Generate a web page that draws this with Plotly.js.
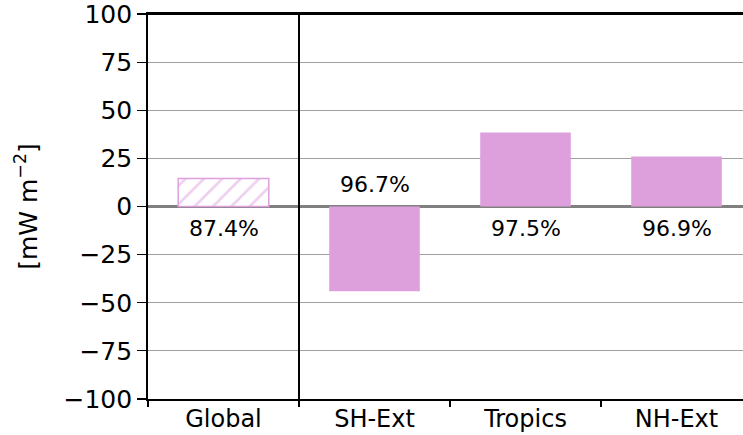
<!DOCTYPE html>
<html>
<head>
<meta charset="utf-8">
<script src="https://cdn.plot.ly/plotly-3.0.1.min.js"></script>
<style>html,body{margin:0;padding:0;overflow:hidden;background:#fff;}</style>
</head>
<body>
<div id="chart" style="width:760px;height:435px;"></div>
<script>
const categories = ["Global", "SH-Ext", "Tropics", "NH-Ext"];
const values = [14.5, -44, 38.5, 26];
const percentLabels = ["87.4%", "96.7%", "97.5%", "96.9%"];
const yTicks = [-100, -75, -50, -25, 0, 25, 50, 75, 100];
const yTitle = "[mW m<sup>−2</sup>]";

const plum = "#DDA0DD";
const FONT = "DejaVu Sans, sans-serif";

const globalTrace = {
  type: "bar",
  x: [categories[0]],
  y: [values[0]],
  width: 0.6,
  marker: {
    color: "white",
    line: {color: plum, width: 1.5},
    pattern: {shape: "/", fgcolor: plum, bgcolor: "white", size: 13, solidity: 0.2, fillmode: "overlay"}
  },
  hoverinfo: "skip"
};
const regionTrace = {
  type: "bar",
  x: categories.slice(1),
  y: values.slice(1),
  width: 0.6,
  marker: {color: plum, line: {width: 0}},
  hoverinfo: "skip"
};

const annotations = categories.map((c, i) => ({
  x: c, y: 0, xref: "x", yref: "y",
  text: percentLabels[i], showarrow: false,
  yshift: values[i] < 0 ? 22 : -22,
  font: {family: FONT, size: 22, color: "black"}
}));

const layout = {
  width: 760, height: 435,
  margin: {l: 148, r: 8, t: 14, b: 36},
  paper_bgcolor: "white", plot_bgcolor: "white",
  showlegend: false,
  bargap: 0.4,
  font: {family: FONT, size: 25, color: "black"},
  xaxis: {
    type: "category",
    categoryorder: "array", categoryarray: categories,
    range: [-0.5, 3.5],
    tickson: "boundaries",
    ticks: "outside", ticklen: 6, tickwidth: 1.2, tickcolor: "black",
    showline: true, linecolor: "black", linewidth: 1.8, mirror: true,
    showgrid: false, zeroline: false,
    ticklabeloverflow: "allow",
    ticklabelstandoff: -3,
    tickfont: {family: FONT, size: 24, color: "black"}
  },
  yaxis: {
    range: [-100, 100],
    tickvals: yTicks,
    ticks: "outside", ticklen: 9, tickwidth: 1.2, tickcolor: "black",
    showline: true, linecolor: "black", linewidth: 1.8, mirror: true,
    showgrid: true, gridcolor: "#a0a0a0", gridwidth: 1,
    zeroline: true, zerolinecolor: "#808080", zerolinewidth: 3.5,
    ticklabeloverflow: "allow",
    tickfont: {family: FONT, size: 25, color: "black"},
    title: {text: yTitle, font: {family: FONT, size: 25, color: "black"}, standoff: 19}
  },
  shapes: [
    {type: "line", xref: "x", yref: "paper", x0: 0.5, x1: 0.5, y0: 0, y1: 1,
     line: {color: "black", width: 2}},
    {type: "line", xref: "paper", yref: "paper", x0: 0, x1: 1, y0: 1, y1: 1,
     line: {color: "black", width: 1.8}}
  ],
  annotations: annotations
};

Plotly.newPlot("chart", [globalTrace, regionTrace], layout, {displayModeBar: false, staticPlot: true});
</script>
</body>
</html>
